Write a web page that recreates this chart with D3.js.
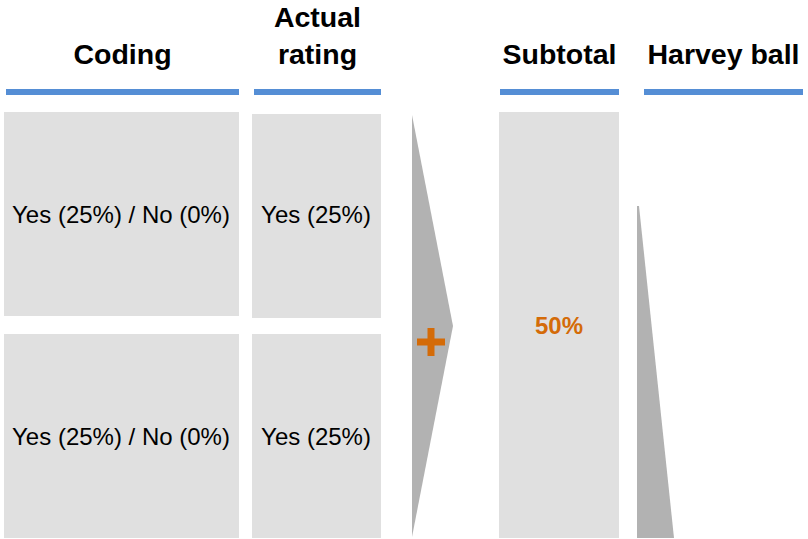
<!DOCTYPE html>
<html>
<head>
<meta charset="utf-8">
<script src="https://cdn.jsdelivr.net/npm/d3@7"></script>
<style>
  html, body { margin: 0; padding: 0; background: #fff; }
  svg { display: block; font-family: "Liberation Sans", Arial, sans-serif; }
</style>
</head>
<body>
<div id="chart"></div>
<script>
// --- Content ---
const headers = [["Coding"], ["Actual", "rating"], ["Subtotal"], ["Harvey ball"]];
const rows = ["row1", "row2"];
const codingCells = ["Yes (25%) / No (0%)", "Yes (25%) / No (0%)"];
const ratingCells = ["Yes (25%)", "Yes (25%)"];
const subtotalValue = "50%";

const width = 808, height = 539;
const blue = "#558ed5", boxGrey = "#e0e0e0", arrowGrey = "#b2b2b2", orange = "#d46b08";

// column extents (x0, x1) for boxes and underline bars
const cols = [
  { box: [4, 239], line: [6, 239] },
  { box: [252, 381], line: [254, 381] },
  { box: [499, 619], line: [500, 619] },
  { box: null, line: [644, 803] }
];

const svg = d3.select("#chart").append("svg")
  .attr("width", width).attr("height", height);

const y = d3.scaleBand().domain(rows).range([112, 538]).paddingInner(0.081);

// --- Headers ---
headers.forEach((lines, i) => {
  const c = cols[i];
  const cx = (c.line[0] + c.line[1]) / 2;
  const t = svg.append("text")
    .attr("x", cx).attr("y", 64 - (lines.length - 1) * 37)
    .attr("text-anchor", "middle")
    .attr("font-weight", "bold").attr("font-size", 28.5).attr("fill", "#000");
  lines.forEach((l, k) => t.append("tspan").attr("x", cx).attr("dy", k ? 37 : 0).text(l));
  svg.append("rect")
    .attr("x", c.line[0]).attr("y", 89)
    .attr("width", c.line[1] - c.line[0]).attr("height", 6)
    .attr("fill", blue);
});

// --- Cell boxes ---
function column(ci, cells, dy) {
  const c = cols[ci].box;
  svg.append("g").selectAll("rect").data(cells).join("rect")
    .attr("x", c[0]).attr("y", (d, i) => y(rows[i]) + (i === 0 ? dy : 0))
    .attr("width", c[1] - c[0]).attr("height", y.bandwidth())
    .attr("fill", boxGrey);
  svg.append("g").selectAll("text").data(cells).join("text")
    .attr("x", (c[0] + c[1]) / 2 - 0.5)
    .attr("y", (d, i) => y(rows[i]) + y.bandwidth() / 2 + 9)
    .attr("text-anchor", "middle")
    .attr("font-size", 24).attr("fill", "#000")
    .text(d => d);
}
column(0, codingCells, 0);
column(1, ratingCells, 2);

// --- Chevron with plus ---
const chevTop = y(rows[0]) + 3, chevBottom = y(rows[1]) + y.bandwidth() - 1;
svg.append("path")
  .attr("d", d3.line()([[412, chevTop], [453, (chevTop + chevBottom) / 2], [412, chevBottom]]) + "Z")
  .attr("fill", arrowGrey);
const pc = [431, 342], arm = 14, th = 3.5;
svg.append("rect").attr("x", pc[0] - arm).attr("y", pc[1] - th)
  .attr("width", arm * 2).attr("height", th * 2).attr("fill", orange);
svg.append("rect").attr("x", pc[0] - th).attr("y", pc[1] - arm)
  .attr("width", th * 2).attr("height", arm * 2).attr("fill", orange);

// --- Subtotal ---
const sb = cols[2].box;
svg.append("rect")
  .attr("x", sb[0]).attr("y", y.range()[0])
  .attr("width", sb[1] - sb[0]).attr("height", y.range()[1] - y.range()[0])
  .attr("fill", boxGrey);
svg.append("text")
  .attr("x", (sb[0] + sb[1]) / 2).attr("y", 334)
  .attr("text-anchor", "middle")
  .attr("font-weight", "bold").attr("font-size", 24).attr("fill", orange)
  .text(subtotalValue);

// --- Harvey ball wedge ---
svg.append("path")
  .attr("d", d3.line()([[637, 206], [639, 206], [674, 538], [637, 538]]) + "Z")
  .attr("fill", arrowGrey);
</script>
</body>
</html>
